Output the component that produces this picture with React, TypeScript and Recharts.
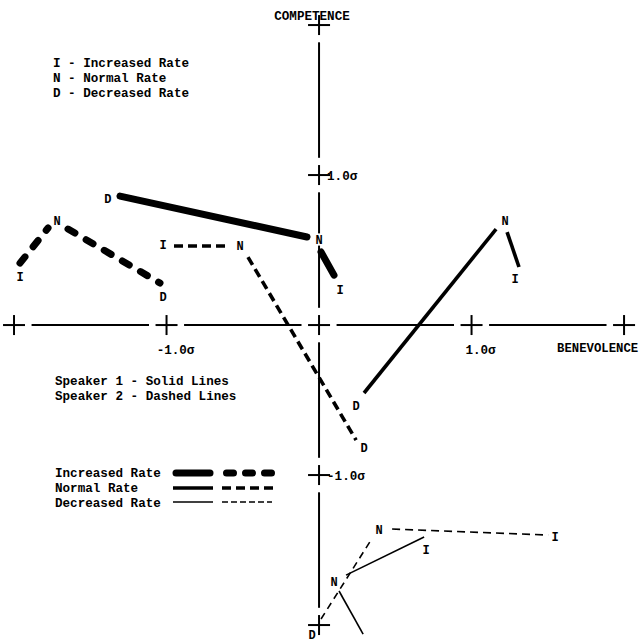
import React from 'react';
import { ComposedChart, Line, Scatter, XAxis, YAxis, ReferenceLine } from 'recharts';

const W = 639;
const H = 642;

// σ units; extents put the origin at (319, 325) with ~152 px per σ across and 150 px per σ up
const X_DOMAIN = [-2.092, 2.098];
const Y_DOMAIN = [-2.113, 2.167];

const xTicks = [-2, -1, 0, 1, 2];
const xTickText = ['', '-1.0σ', '', '1.0σ', ''];
const yTicks = [-2, -1, 1, 2];
const yTickText = ['', '-1.0σ', '1.0σ', ''];
const yAxisStops = [-2, -1, 0, 1, 2];

// speaker 1, increased rate (heavy solid)
const s1IncDN = [{ x: -1.305, y: 0.86 }, { x: -0.079, y: 0.587 }];
const s1IncNI = [{ x: 0.013, y: 0.487 }, { x: 0.098, y: 0.333 }];
const s1IncTags = [
  { x: -1.384, y: 0.84, t: 'D' },
  { x: 0, y: 0.567, t: 'N' },
  { x: 0.138, y: 0.233, t: 'I' },
];

// speaker 2, increased rate (heavy dashes)
const s2IncIN = [{ x: -1.961, y: 0.413 }, { x: -1.777, y: 0.647 }];
const s2IncND = [{ x: -1.646, y: 0.64 }, { x: -1.043, y: 0.28 }];
const s2IncTags = [
  { x: -1.961, y: 0.32, t: 'I' },
  { x: -1.718, y: 0.693, t: 'N' },
  { x: -1.023, y: 0.187, t: 'D' },
];

// speaker 2, normal rate (medium dashes)
const s2NorIN = [{ x: -0.951, y: 0.527 }, { x: -0.61, y: 0.527 }];
const s2NorND = [{ x: -0.466, y: 0.453 }, { x: 0.243, y: -0.767 }];
const s2NorTags = [
  { x: -1.023, y: 0.533, t: 'I' },
  { x: -0.518, y: 0.527, t: 'N' },
  { x: 0.295, y: -0.82, t: 'D' },
];

// speaker 1, normal rate (medium solid)
const s1NorDN = [{ x: 0.295, y: -0.453 }, { x: 1.161, y: 0.64 }];
const s1NorNI = [{ x: 1.233, y: 0.62 }, { x: 1.311, y: 0.387 }];
const s1NorTags = [
  { x: 0.243, y: -0.54, t: 'D' },
  { x: 1.22, y: 0.693, t: 'N' },
  { x: 1.285, y: 0.307, t: 'I' },
];

// speaker 2, decreased rate (light dashes)
const s2DecNI = [{ x: 0.479, y: -1.36 }, { x: 1.502, y: -1.4 }];
const s2DecDN = [{ x: 0.013, y: -1.96 }, { x: 0.341, y: -1.433 }];
const s2DecTags = [
  { x: 0.393, y: -1.367, t: 'N' },
  { x: 1.548, y: -1.413, t: 'I' },
  { x: -0.046, y: -2.067, t: 'D' },
];

// speaker 1, decreased rate (light solid)
const s1DecNI = [{ x: 0.177, y: -1.667 }, { x: 0.689, y: -1.413 }];
const s1DecND = [{ x: 0.131, y: -1.773 }, { x: 0.289, y: -2.06 }];
const s1DecTags = [
  { x: 0.098, y: -1.713, t: 'N' },
  { x: 0.702, y: -1.5, t: 'I' },
];

const rateKey = ['I - Increased Rate', 'N - Normal Rate', 'D - Decreased Rate'];
const speakerKey = ['Speaker 1 - Solid Lines', 'Speaker 2 - Dashed Lines'];
const lineKey = ['Increased Rate', 'Normal Rate', 'Decreased Rate'];

const FONT = "'Liberation Mono', 'Courier New', monospace";
const HEAVY = 7;
const MEDIUM = 3.6;
const LIGHT = 1.6;

const tags = [...s1IncTags, ...s2IncTags, ...s2NorTags, ...s1NorTags, ...s2DecTags, ...s1DecTags];

const crosses = [
  ...xTicks.map((v, i) => ({ x: v, y: 0, lab: xTickText[i], axis: 'x' })),
  ...yTicks.map((v, i) => ({ x: 0, y: v, lab: yTickText[i], axis: 'y' })),
];

// axis pieces run between the crosses, leaving a small gap on each side
const GAP = 0.115;
const axisPieces = [
  ...xTicks.slice(1).map((v, i) => [{ x: xTicks[i] + GAP, y: 0 }, { x: v - GAP, y: 0 }]),
  ...yAxisStops.slice(1).map((v, i) => [{ x: 0, y: yAxisStops[i] + GAP }, { x: 0, y: v - GAP }]),
];

const Cross = (p: any) => {
  const { cx, cy, payload } = p;
  return (
    <g>
      <line x1={cx - 11} x2={cx + 11} y1={cy} y2={cy} stroke="#000" strokeWidth={2} />
      <line x1={cx} x2={cx} y1={cy - 10} y2={cy + 10} stroke="#000" strokeWidth={2} />
      {payload.lab ? (
        payload.axis === 'x' ? (
          <text x={cx + 9} y={cy + 29} textAnchor="middle" fill="#000" fontFamily={FONT} fontWeight="bold" fontSize={12.6}>
            {payload.lab}
          </text>
        ) : (
          <text x={cx + 8} y={cy + 5} fill="#000" fontFamily={FONT} fontWeight="bold" fontSize={12.6}>
            {payload.lab}
          </text>
        )
      ) : null}
    </g>
  );
};

const Tag = (p: any) => (
  <g>
    <text x={p.cx} y={p.cy + 4} textAnchor="middle" fontFamily={FONT} fontWeight="bold" fontSize={12}
      fill="none" stroke="#fff" strokeWidth={3}>
      {p.payload.t}
    </text>
    <text x={p.cx} y={p.cy + 4} textAnchor="middle" fontFamily={FONT} fontWeight="bold" fontSize={12} fill="#000">
      {p.payload.t}
    </text>
  </g>
);

function seg(data: { x: number; y: number }[], width: number, dash: string | undefined, key: string, cap = 'butt') {
  return (
    <Line
      key={key}
      data={data}
      dataKey="y"
      stroke="#000"
      strokeWidth={width}
      strokeDasharray={dash}
      strokeLinecap={cap as any}
      dot={false}
      activeDot={false}
      isAnimationActive={false}
    />
  );
}

const txt = { fontFamily: FONT, fontWeight: 'bold' as const, fontSize: 12.6, fill: '#000' };

export default function App() {
  return (
    <div style={{ position: 'absolute', left: 0, top: 0, width: W, height: H, background: '#fff' }}>
      <ComposedChart width={W} height={H} margin={{ top: 0, right: 0, bottom: 0, left: 0 }}>
        <XAxis dataKey="x" type="number" domain={X_DOMAIN} allowDataOverflow hide />
        <YAxis dataKey="y" type="number" domain={Y_DOMAIN} allowDataOverflow hide />
        {axisPieces.map((s, i) => (
          <ReferenceLine key={`ax${i}`} segment={s} stroke="#000" strokeWidth={2} ifOverflow="visible" />
        ))}
        {seg(s1IncDN, HEAVY, undefined, 's1i1', 'round')}
        {seg(s1IncNI, HEAVY, undefined, 's1i2', 'round')}
        {seg(s2IncIN, HEAVY, '8 13', 's2i1', 'round')}
        {seg(s2IncND, HEAVY, '8 13', 's2i2', 'round')}
        {seg(s2NorIN, MEDIUM, '9 5', 's2n1')}
        {seg(s2NorND, MEDIUM, '9 5', 's2n2')}
        {seg(s1NorDN, MEDIUM, undefined, 's1n1')}
        {seg(s1NorNI, MEDIUM, undefined, 's1n2')}
        {seg(s2DecNI, LIGHT, '8 5', 's2d1')}
        {seg(s2DecDN, LIGHT, '7 5', 's2d2')}
        {seg(s1DecNI, LIGHT, undefined, 's1d1')}
        {seg(s1DecND, LIGHT, undefined, 's1d2')}
        <Scatter data={crosses} shape={Cross} isAnimationActive={false} />
        <Scatter data={tags} shape={Tag} isAnimationActive={false} />
      </ComposedChart>
      <svg width={W} height={H} style={{ position: 'absolute', left: 0, top: 0, pointerEvents: 'none' }}>
        <text x={312} y={20} textAnchor="middle" {...txt}>COMPETENCE</text>
        <text x={557} y={352} {...txt} fontSize={12.3}>BENEVOLENCE</text>
        {rateKey.map((s, i) => (
          <text key={s} x={53} y={67 + i * 15} {...txt}>{s}</text>
        ))}
        {speakerKey.map((s, i) => (
          <text key={s} x={55} y={385 + i * 15} {...txt}>{s}</text>
        ))}
        {lineKey.map((s, i) => (
          <text key={s} x={55} y={477 + i * 15} {...txt}>{s}</text>
        ))}
        <line x1={176} x2={210} y1={473} y2={473} stroke="#000" strokeWidth={HEAVY} strokeLinecap="round" />
        <line x1={226.5} x2={272} y1={473} y2={473} stroke="#000" strokeWidth={HEAVY} strokeLinecap="round" strokeDasharray="7 12" />
        <line x1={173} x2={213} y1={488} y2={488} stroke="#000" strokeWidth={MEDIUM} />
        <line x1={222} x2={273} y1={488} y2={488} stroke="#000" strokeWidth={MEDIUM} strokeDasharray="9 5" />
        <line x1={173} x2={213} y1={502} y2={502} stroke="#000" strokeWidth={LIGHT} />
        <line x1={222} x2={272} y1={502} y2={502} stroke="#000" strokeWidth={LIGHT} strokeDasharray="6 3" />
      </svg>
    </div>
  );
}
